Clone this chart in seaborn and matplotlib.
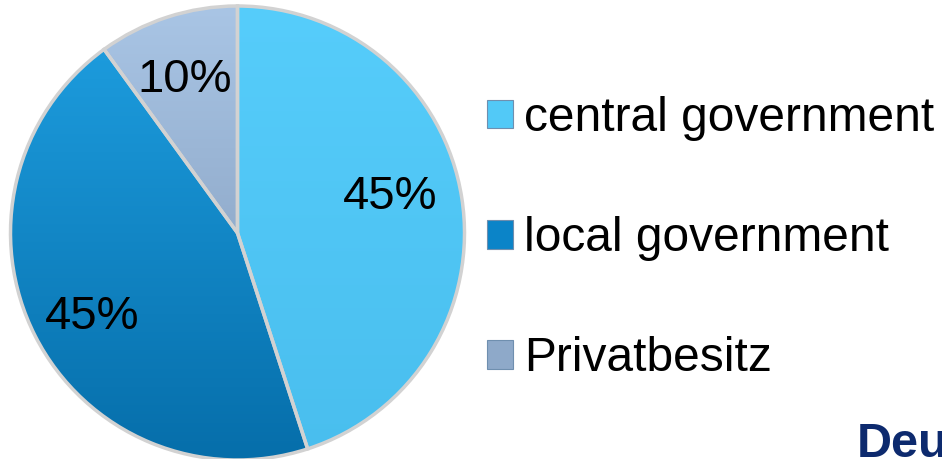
import matplotlib
matplotlib.use("Agg")
import matplotlib.pyplot as plt
import numpy as np
import seaborn as sns
from matplotlib.patches import Patch
from matplotlib.colors import LinearSegmentedColormap

categories = ["central government", "local government", "Privatbesitz"]
shares = [45, 45, 10]
colors = ["#52C9F7", "#0B84C8", "#8EA9C9"]
grad_top = ["#56CDFB", "#1FA0E2", "#A9C5E5"]
grad_bottom = ["#49BEEE", "#066EAA", "#7C95B5"]

sns.set_theme(style="white")
plt.rcParams['font.family'] = ['Liberation Sans', 'DejaVu Sans']
plt.rcParams['text.color'] = 'black'

W, H = 942, 459
fig = plt.figure(figsize=(W / 100, H / 100), dpi=100)
fig.patch.set_facecolor("white")

cx, cy, r = 237.5, 233, 227
ax = fig.add_axes([(cx - r) / W, (H - cy - r) / H, 2 * r / W, 2 * r / H])
wedges = ax.pie(
    shares, colors=colors, startangle=90, counterclock=False, radius=1,
    wedgeprops=dict(edgecolor="none", linewidth=0), labels=None)[0]

# vertical gradient fill clipped to each wedge
grad = np.linspace(1, 0, 256).reshape(-1, 1)
for w, ct, cb in zip(wedges, grad_top, grad_bottom):
    cmap = LinearSegmentedColormap.from_list("g", [cb, ct])
    im = ax.imshow(grad, extent=(-1, 1, -1, 1), cmap=cmap, aspect="auto",
                   origin="upper", zorder=1.5, vmin=0, vmax=1)
    im.set_clip_path(w)

# edges on top, with percentage labels
_, _, autotexts = ax.pie(
    shares, startangle=90, counterclock=False, radius=1,
    autopct=lambda p: f"{p:.0f}%", pctdistance=0.70,
    wedgeprops=dict(edgecolor="#D2D2D2", linewidth=2.5, fill=False, zorder=3),
    textprops=dict(fontsize=34, color="black", zorder=4))
label_pos = [(0.672, 0.160), (-0.641, -0.370), (-0.231, 0.675)]
for t, p in zip(autotexts, label_pos):
    t.set_position(p)
    t.set_zorder(5)

ax.set_xlim(-1, 1)
ax.set_ylim(-1, 1)
ax.set_aspect("equal")
ax.axis("off")

handles = [Patch(facecolor=c, edgecolor="#6F8FAF", linewidth=0.8) for c in colors]
leg = fig.legend(handles, categories, loc="upper left",
                 bbox_to_anchor=(487 / W, 1 - 96 / H),
                 frameon=False, fontsize=34.5, handlelength=0.55, handleheight=0.55,
                 handletextpad=0.22, labelspacing=1.57, borderaxespad=0, borderpad=0)
for t in leg.get_texts():
    t.set_color("black")

fig.text(857 / W, 1 - 422 / H, "Deutsche", fontsize=35, fontweight="bold",
         color="#0D2A6E", ha="left", va="top")

fig.savefig("out.png", dpi=100)
